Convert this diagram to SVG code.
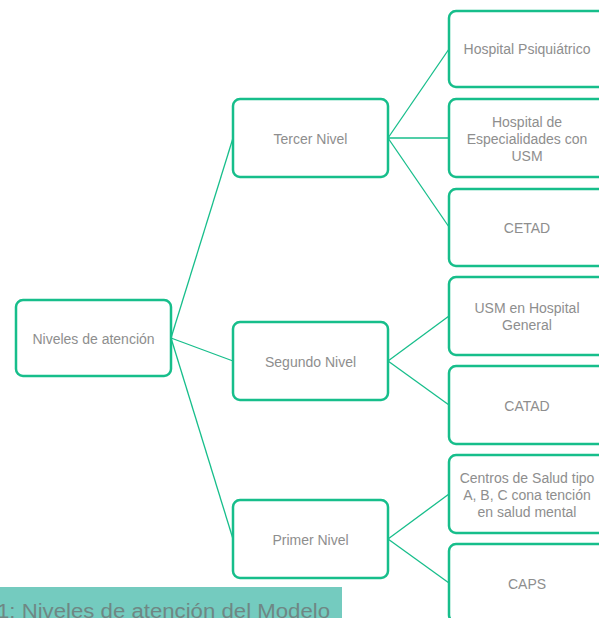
<svg xmlns="http://www.w3.org/2000/svg" width="599" height="618" viewBox="0 0 599 618">
<style>
.n rect{fill:#fff;stroke:#17BE8B;stroke-width:2.5}
.n text{font-family:"Liberation Sans",Arial,sans-serif;font-size:14px;fill:#8e8e8e;text-anchor:middle}
#connectors line{stroke:#17BE8B;stroke-width:1.3}
</style>
<rect width="599" height="618" fill="#fff"/>
<g id="connectors">
<line x1="171" y1="338" x2="233" y2="138"/>
<line x1="171" y1="338" x2="233" y2="361"/>
<line x1="171" y1="338" x2="233" y2="539"/>
<line x1="388" y1="138" x2="449" y2="49"/>
<line x1="388" y1="138" x2="449" y2="138"/>
<line x1="388" y1="138" x2="449" y2="227"/>
<line x1="388" y1="361" x2="449" y2="316"/>
<line x1="388" y1="361" x2="449" y2="405"/>
<line x1="388" y1="539" x2="449" y2="494"/>
<line x1="388" y1="539" x2="449" y2="583"/>
</g>
<g id="root" class="n"><rect x="16" y="300" width="155" height="76" rx="7"/><text x="93.5" y="344">Niveles de atención</text></g>
<g id="tercer" class="n"><rect x="233" y="99" width="155" height="78" rx="7"/><text x="310.5" y="144">Tercer Nivel</text></g>
<g id="segundo" class="n"><rect x="233" y="322" width="155" height="78" rx="7"/><text x="310.5" y="367">Segundo Nivel</text></g>
<g id="primer" class="n"><rect x="233" y="500" width="155" height="78" rx="7"/><text x="310.5" y="545">Primer Nivel</text></g>
<g id="psiq" class="n"><rect x="449" y="11" width="156" height="76" rx="7"/><text x="527" y="54">Hospital Psiquiátrico</text></g>
<g id="espec" class="n"><rect x="449" y="99" width="156" height="78" rx="7"/><text x="527" y="127">Hospital de</text><text x="527" y="144">Especialidades con</text><text x="527" y="161">USM</text></g>
<g id="cetad" class="n"><rect x="449" y="189" width="156" height="77" rx="7"/><text x="527" y="233">CETAD</text></g>
<g id="usm" class="n"><rect x="449" y="277" width="156" height="78" rx="7"/><text x="527" y="313">USM en Hospital</text><text x="527" y="330">General</text></g>
<g id="catad" class="n"><rect x="449" y="366" width="156" height="78" rx="7"/><text x="527" y="411">CATAD</text></g>
<g id="centros" class="n"><rect x="449" y="455" width="156" height="78" rx="7"/><text x="527" y="483">Centros de Salud tipo</text><text x="527" y="500">A, B, C cona tención</text><text x="527" y="517">en salud mental</text></g>
<g id="caps" class="n"><rect x="449" y="544" width="156" height="78" rx="7"/><text x="527" y="589">CAPS</text></g>
<g id="caption"><rect x="0" y="587" width="342" height="31" fill="#74CBBF"/><text x="-3" y="618" font-family="'Liberation Sans',Arial,sans-serif" font-size="20" fill="#6f8784" textLength="333" lengthAdjust="spacingAndGlyphs">1: Niveles de atención del Modelo</text></g>
</svg>
